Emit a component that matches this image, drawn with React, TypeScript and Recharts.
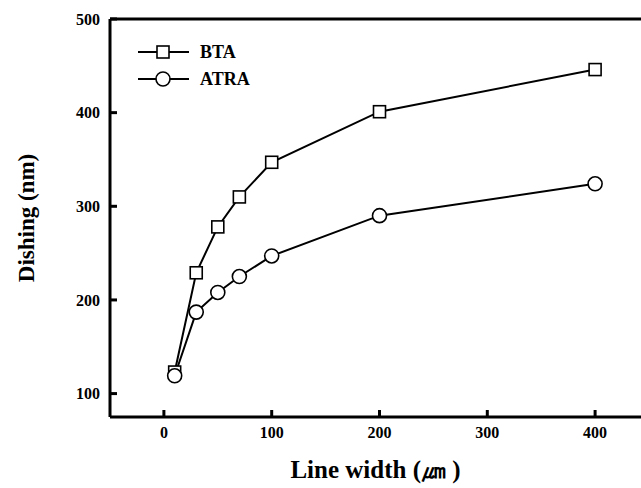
import { LineChart, Line, XAxis, YAxis, Customized } from 'recharts'

// line width (um) for each sample
const widths = [10, 30, 50, 70, 100, 200, 400]
// dishing (nm)
const bta = [123, 229, 278, 310, 347, 401, 446]
const atra = [119, 187, 208, 225, 247, 290, 324]

const xTicks = [0, 100, 200, 300, 400]
const yTicks = [100, 200, 300, 400, 500]

const series = [
  { key: 'bta', name: 'BTA', shape: 'square' },
  { key: 'atra', name: 'ATRA', shape: 'circle' },
]

const data = widths.map((w, i) => ({ w, bta: bta[i], atra: atra[i] }))

const FONT = 'Liberation Serif, Times New Roman, serif'
const tickFont = { fontFamily: FONT, fontWeight: 'bold', fontSize: 16, fill: '#000' }

function Square(props: any) {
  const { cx, cy } = props
  if (cx == null || cy == null) return null
  return <rect x={cx - 6} y={cy - 6} width={12} height={12} fill="#fff" stroke="#000" strokeWidth={1.6} />
}

function Circle(props: any) {
  const { cx, cy } = props
  if (cx == null || cy == null) return null
  return <circle cx={cx} cy={cy} r={7} fill="#fff" stroke="#000" strokeWidth={1.6} />
}

function LegendBox() {
  return (
    <g>
      {series.map((s, i) => {
        const y = 52 + i * 27
        return (
          <g key={s.key}>
            <line x1={138} x2={189} y1={y} y2={y} stroke="#000" strokeWidth={2} />
            {s.shape === 'square' ? <Square cx={163} cy={y} /> : <Circle cx={163} cy={y} />}
            <text x={200} y={y} dy={6} fontFamily={FONT} fontWeight="bold" fontSize={18} fill="#000">
              {s.name}
            </text>
          </g>
        )
      })}
    </g>
  )
}

export default function App() {
  return (
    <div style={{ width: 641, height: 488, overflow: 'hidden', background: '#fff' }}>
      <style>{'body{margin:0}'}</style>
      <LineChart width={660} height={488} data={data} margin={{ top: 16, right: 11, left: 0, bottom: 0 }}>
        <XAxis
          dataKey="w"
          type="number"
          domain={[-50, 450]}
          ticks={xTicks}
          height={71}
          tickSize={-7}
          tickMargin={17}
          tick={tickFont}
          tickLine={{ stroke: '#000', strokeWidth: 3 }}
          axisLine={{ stroke: '#000', strokeWidth: 3 }}
          label={{ value: 'Line width (㎛ )', position: 'insideBottom', offset: 10, dx: -4, fontFamily: FONT, fontWeight: 'bold', fontSize: 25, fill: '#000' }}
        />
        <XAxis
          xAxisId="top"
          orientation="top"
          dataKey="w"
          type="number"
          domain={[-50, 450]}
          height={3}
          tick={false}
          tickLine={false}
          axisLine={{ stroke: '#000', strokeWidth: 3 }}
        />
        <YAxis
          type="number"
          domain={[75, 500]}
          ticks={yTicks}
          width={110}
          tickSize={-7}
          tickMargin={17}
          tick={tickFont}
          tickLine={{ stroke: '#000', strokeWidth: 3 }}
          axisLine={{ stroke: '#000', strokeWidth: 3 }}
          label={{ value: 'Dishing (nm)', angle: -90, position: 'insideLeft', offset: 26, fontFamily: FONT, fontWeight: 'bold', fontSize: 23, fill: '#000', style: { textAnchor: 'middle' } }}
        />
        <Line dataKey="bta" stroke="#000" strokeWidth={2} dot={<Square />} isAnimationActive={false} />
        <Line dataKey="atra" stroke="#000" strokeWidth={2} dot={<Circle />} isAnimationActive={false} />
        <Customized component={<LegendBox />} />
      </LineChart>
    </div>
  )
}
